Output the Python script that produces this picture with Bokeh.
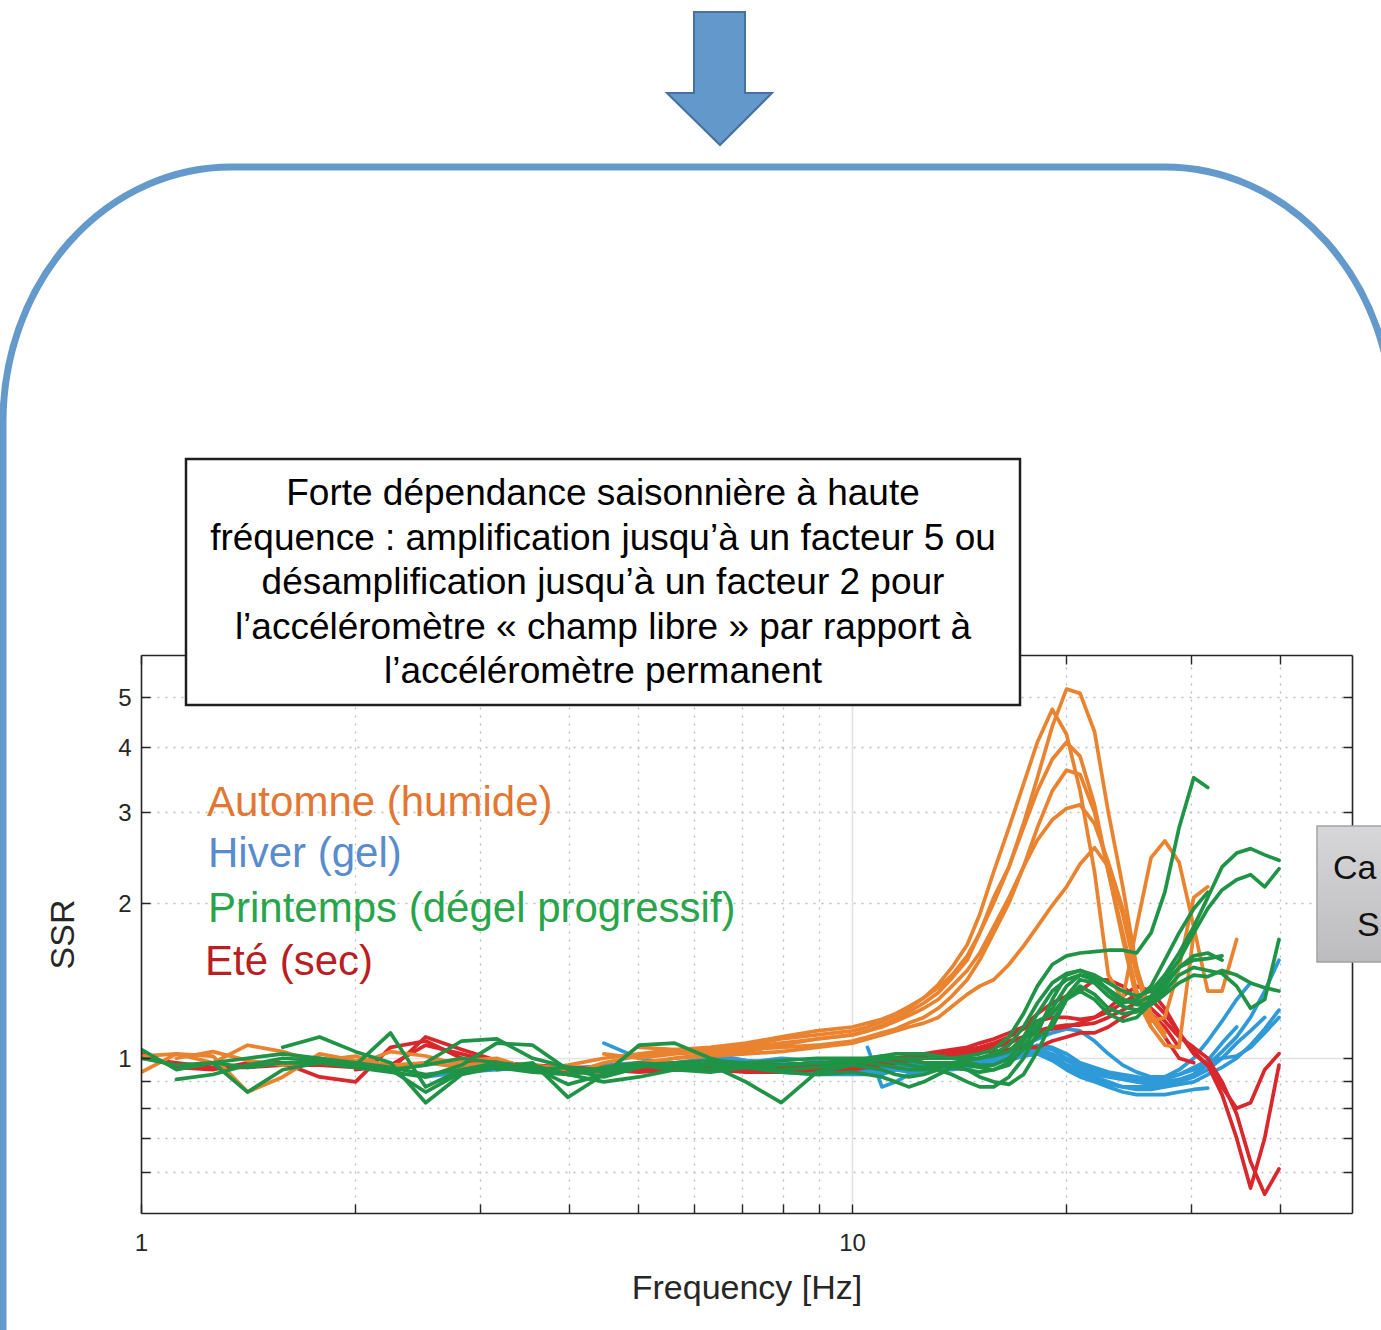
from bokeh.plotting import figure
from bokeh.layouts import column
from bokeh.models import FixedTicker, LogAxis, Grid, Range1d, Div
from bokeh.embed import file_html
from bokeh.resources import INLINE

# ---------------- data ----------------
FREQ = [1.00, 1.12, 1.26, 1.41, 1.58, 1.78, 2.00, 2.24, 2.51, 2.82,
        3.16, 3.55, 3.98, 4.47, 5.01, 5.62, 6.31, 7.08, 7.94, 8.91,
        10.0, 10.5, 11.0, 11.5, 12.0, 12.6, 13.2, 13.8, 14.5, 15.1,
        15.8, 16.6, 17.4, 18.2, 19.1, 20.0, 20.9, 21.9, 22.9, 24.0,
        25.1, 26.3, 27.5, 28.8, 30.2, 31.6, 33.1, 34.7, 36.3, 38.0, 39.8]

AUTOMNE_START = [0, 0, 1, 14, 13, 12]
AUTOMNE = [
    [0.94, 1.02, 1.01, 0.86, 0.92, 1.02, 0.99, 0.97, 0.98, 0.96, 0.97, 0.97, 0.95, 0.96, 0.97, 1.0, 1.02, 1.03, 1.06, 1.09,
     1.11, 1.13, 1.16, 1.19, 1.23, 1.28, 1.34, 1.43, 1.55, 1.75, 2.05, 2.35, 2.85, 3.5, 4.4, 5.2, 5.1, 4.3, 3.0, 2.15,
     1.5, 1.18, 1.2, 1.5, 2.05, 2.15],
    [1.01, 1.02, 0.98, 1.06, 1.03, 0.98, 0.97, 1.03, 1.01, 0.97, 0.98, 0.96, 0.93, 0.98, 1.01, 1.03, 1.04, 1.06, 1.09, 1.11,
     1.13, 1.15, 1.18, 1.21, 1.25, 1.31, 1.39, 1.5, 1.66, 1.9, 2.3, 2.8, 3.4, 4.1, 4.75, 4.25, 3.3, 2.3, 1.45, 1.3,
     1.8, 2.45, 2.64, 2.4, 1.8, 1.35, 1.35, 1.7],
    [1.0, 1.03, 0.99, 0.97, 0.99, 1.01, 0.96, 0.98, 0.99, 1.0, 0.95, 0.97, 1.0, 1.02, 1.04, 1.05, 1.07, 1.1, 1.13,
     1.15, 1.17, 1.19, 1.22, 1.26, 1.31, 1.37, 1.45, 1.58, 1.75, 2.0, 2.35, 2.8, 3.3, 3.8, 4.1, 3.85, 3.1, 2.3, 1.7,
     1.3, 1.15],
    [1.05, 1.04, 1.03, 1.04, 1.05, 1.06,
     1.08, 1.1, 1.12, 1.14, 1.17, 1.2, 1.25, 1.32, 1.42, 1.55, 1.75, 2.0, 2.35, 2.8, 3.3, 3.62, 3.55, 3.0, 2.3, 1.75,
     1.35, 1.15, 1.06, 1.05, 1.75],
    [1.02, 1.0, 1.02, 1.03, 1.05, 1.07, 1.09,
     1.11, 1.13, 1.15, 1.18, 1.21, 1.25, 1.3, 1.38, 1.48, 1.6, 1.8, 2.05, 2.35, 2.65, 2.9, 3.05, 3.1, 2.85, 2.4, 1.95,
     1.5, 1.22, 1.12],
    [0.93, 0.95, 0.98, 1.0, 1.01, 1.02, 1.03, 1.05,
     1.07, 1.09, 1.11, 1.13, 1.15, 1.17, 1.2, 1.26, 1.33, 1.38, 1.42, 1.52, 1.65, 1.8, 1.98, 2.15, 2.38, 2.56, 2.35,
     1.9, 1.45, 1.2, 1.1],
]

HIVER_START = [8, 13, 14, 15, 12, 16, 21, 17]
HIVER = [
    [0.92, 0.94, 0.95, 0.96, 0.95, 0.97, 0.98, 0.96, 0.95, 0.97, 0.98, 0.97,
     0.97, 0.96, 0.97, 0.98, 0.98, 0.97, 0.96, 0.96, 0.97, 0.98, 0.99, 1.01, 1.03, 1.05, 1.04, 1.0, 0.97, 0.95, 0.93,
     0.92, 0.91, 0.9, 0.9, 0.91, 0.93, 0.97, 1.03, 1.1, 1.2, 1.35, 1.55],
    [1.07, 1.0, 0.97, 0.96, 0.98, 1.0, 0.99,
     0.95, 0.94, 0.93, 0.95, 0.96, 0.96, 0.95, 0.95, 0.96, 0.97, 0.98, 1.0, 1.02, 1.03, 1.01, 0.97, 0.94, 0.92, 0.9,
     0.88, 0.87, 0.87, 0.88, 0.89, 0.9, 0.93, 0.96, 1.0, 1.06, 1.14, 1.24],
    [0.97, 0.98, 1.0, 0.99, 0.97, 0.96,
     0.98, 0.99, 0.97, 0.96, 0.97, 0.98, 0.98, 0.97, 0.98, 1.0, 1.01, 1.02, 1.04, 1.06, 1.05, 1.02, 0.98, 0.96, 0.94,
     0.93, 0.92, 0.91, 0.92, 0.95, 1.0, 1.08, 1.18, 1.3, 1.4],
    [0.95, 0.97, 0.96, 0.95, 0.94,
     0.94, 0.95, 0.96, 0.97, 0.97, 0.96, 0.97, 0.98, 0.98, 0.99, 1.0, 1.02, 1.03, 1.04, 1.02, 0.99, 0.96, 0.94, 0.93,
     0.92, 0.9, 0.89, 0.89, 0.9, 0.93, 0.99, 1.07, 1.15],
    [0.95, 0.96, 0.97, 0.95, 0.95, 0.96, 0.97, 0.96,
     0.96, 0.95, 0.95, 0.96, 0.96, 0.95, 0.95, 0.96, 0.97, 0.98, 0.99, 1.0, 1.01, 1.02, 0.99, 0.95, 0.92, 0.9, 0.88,
     0.86, 0.85, 0.85, 0.85, 0.86, 0.87, 0.875],
    [1.02, 0.99, 0.98, 0.97,
     0.97, 0.97, 0.98, 0.99, 0.98, 0.97, 0.97, 0.98, 0.99, 1.0, 1.01, 1.01, 1.02, 1.03, 1.0, 0.97, 0.95, 0.93, 0.92,
     0.91, 0.9, 0.9, 0.91, 0.93, 0.96, 0.99, 1.0, 1.01, 1.05, 1.12, 1.2],
    [1.05, 0.88, 0.9, 0.93, 0.95, 0.96, 0.97, 0.98, 1.0, 1.02, 1.04, 1.06, 1.09, 1.12, 1.14, 1.13, 1.08, 1.02, 0.97,
     0.94, 0.92, 0.92, 0.93, 0.95, 0.98, 1.0],
    [0.95, 0.94, 0.93,
     0.93, 0.93, 0.94, 0.95, 0.94, 0.94, 0.95, 0.96, 0.96, 0.97, 0.98, 0.99, 1.01, 1.02, 1.0, 0.96, 0.93, 0.91, 0.89,
     0.88, 0.88, 0.88, 0.89, 0.9, 0.92, 0.95, 1.0, 1.07, 1.13, 1.2],
]

ETE_START = [0, 0, 6, 8, 12]
ETE = [
    [1.02, 0.96, 0.95, 0.98, 0.98, 0.92, 0.9, 1.05, 1.08, 1.0, 0.97, 0.95, 0.94, 0.95, 0.96, 0.95, 0.96, 0.95, 0.95, 0.96,
     0.97, 0.97, 0.98, 0.99, 1.0, 1.01, 1.02, 1.03, 1.04, 1.05, 1.07, 1.1, 1.14, 1.18, 1.2, 1.2, 1.19, 1.2, 1.23, 1.28,
     1.33, 1.3, 1.22, 1.12, 1.03, 0.97, 0.88, 0.8, 0.82, 0.95, 1.02],
    [1.0, 0.98, 0.96, 0.96, 0.97, 0.97, 0.96, 0.95, 1.1, 1.04, 0.99, 0.96, 0.95, 0.94, 0.95, 0.96, 0.95, 0.94, 0.94, 0.95,
     0.95, 0.96, 0.97, 0.98, 0.99, 1.0, 1.0, 1.01, 1.02, 1.04, 1.06, 1.08, 1.1, 1.12, 1.14, 1.15, 1.17, 1.2, 1.25, 1.32,
     1.38, 1.35, 1.25, 1.12, 1.02, 0.97, 0.85, 0.7, 0.56, 0.7, 0.97],
    [0.95, 0.97, 1.06, 1.02, 0.98, 0.97, 0.96, 0.96, 0.95, 0.95, 0.96, 0.96, 0.97, 0.97,
     0.98, 0.98, 0.99, 1.0, 1.0, 1.01, 1.02, 1.02, 1.03, 1.04, 1.05, 1.07, 1.1, 1.13, 1.15, 1.16, 1.16, 1.17, 1.2, 1.24,
     1.28, 1.25, 1.18, 1.1, 1.05, 1.0, 0.9, 0.78, 0.63, 0.545, 0.61],
    [0.98, 0.99, 0.97, 0.96, 0.95, 0.96, 0.97, 0.96, 0.96, 0.97, 0.97, 0.98,
     0.98, 0.99, 1.0, 1.0, 1.01, 1.02, 1.03, 1.04, 1.05, 1.07, 1.09, 1.12, 1.15, 1.22, 1.28, 1.32, 1.35, 1.42, 1.42,
     1.38, 1.3, 1.2, 1.1, 1.0, 0.98],
    [0.96, 0.95, 0.94, 0.95, 0.96, 0.96, 0.96, 0.96,
     0.96, 0.97, 0.98, 0.98, 0.99, 1.0, 1.0, 1.01, 1.02, 1.03, 1.03, 1.04, 1.05, 1.05, 1.08, 1.1, 1.12, 1.12, 1.15, 1.2,
     1.24, 1.22, 1.15, 1.05],
]

PRINTEMPS_START = [0, 1, 4, 0, 2, 8, 5, 10]
PRINTEMPS = [
    [1.04, 0.95, 0.98, 0.96, 0.98, 0.98, 0.97, 1.12, 0.88, 0.95, 0.97, 0.95, 0.96, 0.95, 0.97, 0.96, 0.97, 0.96, 0.97, 0.98,
     0.99, 0.99, 1.0, 1.0, 1.0, 1.0, 1.0, 1.0, 1.01, 1.02, 1.04, 1.1, 1.22, 1.38, 1.52, 1.58, 1.6, 1.61, 1.62, 1.62,
     1.6, 1.75, 2.1, 2.8, 3.5, 3.35],
    [0.91, 0.93, 0.97, 1.0, 0.99, 0.97, 0.95, 0.97, 1.0, 0.98, 0.96, 0.93, 0.95, 0.97, 0.98, 0.99, 0.98, 0.99, 1.0,
     1.0, 1.0, 1.01, 1.02, 1.02, 1.02, 1.01, 1.0, 1.0, 1.0, 1.02, 1.06, 1.15, 1.28, 1.4, 1.46, 1.48, 1.45, 1.4, 1.35,
     1.32, 1.35, 1.45, 1.6, 1.8, 2.05, 2.35, 2.5, 2.55, 2.48, 2.42],
    [1.05, 1.1, 1.03, 0.98, 0.82, 0.93, 0.96, 0.94, 0.93, 0.96, 0.98, 0.97, 0.95, 0.96, 0.97, 0.98,
     0.98, 0.99, 1.0, 1.0, 0.99, 0.98, 0.98, 0.98, 0.99, 1.0, 1.01, 1.03, 1.1, 1.22, 1.35, 1.42, 1.45, 1.42, 1.36, 1.3,
     1.28, 1.32, 1.42, 1.55, 1.75, 1.95, 2.12, 2.22, 2.27, 2.15, 2.33],
    [1.0, 0.97, 0.98, 0.86, 0.95, 0.98, 0.96, 0.94, 0.92, 0.97, 1.07, 1.06, 0.95, 0.92, 0.96, 0.98, 0.97, 0.9, 0.82, 0.94,
     0.97, 0.98, 0.97, 0.96, 0.95, 0.95, 0.96, 0.97, 0.97, 0.96, 0.95, 0.97, 1.05, 1.15, 1.25, 1.38, 1.45, 1.43, 1.36,
     1.3, 1.27, 1.28, 1.35, 1.45, 1.5, 1.48, 1.46, 1.38, 1.25, 1.3, 1.7],
    [0.98, 1.0, 1.02, 1.0, 0.97, 0.95, 0.86, 0.94, 0.96, 0.98, 0.84, 0.93, 0.97, 0.96, 0.95, 0.97, 0.97, 0.98,
     0.98, 0.99, 0.99, 0.98, 0.97, 0.96, 0.97, 0.98, 0.98, 0.97, 0.97, 1.0, 1.08, 1.18, 1.22, 1.32, 1.42, 1.4, 1.32,
     1.26, 1.24, 1.27, 1.33, 1.4, 1.45, 1.44, 1.48, 1.45, 1.4, 1.37, 1.35],
    [0.98, 1.08, 1.09, 1.0, 0.96, 0.94, 0.97, 0.95, 0.94, 0.96, 0.97, 0.98,
     0.99, 1.0, 1.01, 1.0, 0.99, 0.98, 0.97, 0.96, 0.95, 0.94, 0.95, 0.98, 1.04, 1.1, 1.15, 1.3, 1.38, 1.33, 1.25,
     1.22, 1.23, 1.3, 1.4, 1.5, 1.55, 1.56, 1.58],
    [1.0, 0.98, 0.96, 0.93, 0.95, 0.98, 0.96, 0.89, 0.93, 1.06, 1.07, 1.0, 0.96, 0.95, 0.96,
     0.97, 0.96, 0.95, 0.93, 0.92, 0.93, 0.95, 0.93, 0.9, 0.88, 0.88, 0.92, 1.0, 1.12, 1.3, 1.45, 1.48, 1.44, 1.35,
     1.28, 1.3, 1.38, 1.55, 1.75, 1.95, 2.1],
    [0.95, 0.97, 0.93, 0.9, 0.92, 0.95, 0.98, 0.96, 0.94, 0.93,
     0.94, 0.93, 0.92, 0.9, 0.88, 0.9, 0.93, 0.96, 0.95, 0.92, 0.9, 0.89, 0.93, 1.03, 1.18, 1.3, 1.35, 1.3, 1.22,
     1.18, 1.2, 1.28, 1.38, 1.5, 1.58, 1.6, 1.55],
]

X_TICKS = [1, 2, 3, 4, 5, 6, 7, 8, 9, 10, 20, 30, 40]
X_LABELED = [1, 10]
Y_TICKS = [0.6, 0.7, 0.8, 0.9, 1, 2, 3, 4, 5]
Y_LABELED = [1, 2, 3, 4, 5]

LEGEND = ["Automne (humide)", "Hiver (gel)", "Printemps (dégel progressif)", "Eté (sec)"]
BOX_LINES = ["Forte dépendance saisonnière à haute",
             "fréquence : amplification jusqu’à un facteur 5 ou",
             "désamplification jusqu’à un facteur 2 pour",
             "l’accéléromètre « champ libre » par rapport à",
             "l’accéléromètre permanent"]
SIDE_LINES = ["Ca", "S"]

# ---------------- styles ----------------
C_ORANGE, C_BLUE, C_GREEN, C_RED = "#E9832F", "#2F9AD8", "#1F9346", "#D9282C"
T_ORANGE, T_BLUE, T_GREEN, T_RED = "#E27632", "#588CCD", "#28A54B", "#B91E23"
AX = "#262626"
FONT = "Liberation Sans"
W, H = 1381, 1330

# ================= chart =================
chart = figure(width=W, height=H, x_axis_type="log", y_axis_type="log",
               x_range=Range1d(1, 50.5), y_range=Range1d(0.5, 6.04),
               output_backend="svg", toolbar_location=None,
               min_border_left=141, min_border_right=W - 1352,
               min_border_top=655, min_border_bottom=H - 1213)
chart.outline_line_color = None
chart.background_fill_color = "white"
chart.border_fill_color = "white"
chart.xgrid.visible = False
chart.ygrid.visible = False

bottom_ax = chart.xaxis[0]
left_ax = chart.yaxis[0]

chart.add_layout(Grid(dimension=0, ticker=FixedTicker(ticks=[t for t in X_TICKS if t not in (1, 10)]),
                      grid_line_color="#BDBDBD", grid_line_dash="2 6", grid_line_width=1.3))
chart.add_layout(Grid(dimension=1, ticker=FixedTicker(ticks=[t for t in Y_TICKS if t != 1]),
                      grid_line_color="#BDBDBD", grid_line_dash="2 6", grid_line_width=1.3))
chart.add_layout(Grid(dimension=0, ticker=FixedTicker(ticks=[10]),
                      grid_line_color="#E2E2E2", grid_line_width=1.6))
chart.add_layout(Grid(dimension=1, ticker=FixedTicker(ticks=[1]),
                      grid_line_color="#E2E2E2", grid_line_width=1.6))


def style_axis(ax, ticks, labeled, show):
    ax.ticker = FixedTicker(ticks=ticks)
    ax.major_label_overrides = {t: (str(t) if (show and t in labeled) else "") for t in ticks}
    ax.axis_line_color = AX
    ax.axis_line_width = 1.6
    ax.major_tick_line_color = AX
    ax.major_tick_line_width = 1.4
    ax.major_tick_in = 9
    ax.major_tick_out = 0
    ax.minor_tick_line_color = None
    ax.major_label_text_font = FONT
    ax.major_label_text_font_size = "24px" if show else "0px"
    ax.major_label_text_color = AX


style_axis(bottom_ax, X_TICKS, X_LABELED, True)
style_axis(left_ax, Y_TICKS, Y_LABELED, True)
bottom_ax.major_label_standoff = 20
left_ax.major_label_standoff = 10
top_ax = LogAxis()
right_ax = LogAxis()
style_axis(top_ax, X_TICKS, X_LABELED, False)
style_axis(right_ax, Y_TICKS, Y_LABELED, False)
top_ax.major_label_standoff = 0
right_ax.major_label_standoff = 0
chart.add_layout(top_ax, "above")
chart.add_layout(right_ax, "right")

bottom_ax.axis_label = "Frequency [Hz]"
left_ax.axis_label = "SSR"
for ax in (bottom_ax, left_ax):
    ax.axis_label_text_font = FONT
    ax.axis_label_text_font_size = "34px"
    ax.axis_label_text_font_style = "normal"
    ax.axis_label_text_color = AX
bottom_ax.axis_label_standoff = 14
left_ax.axis_label_standoff = 34

for starts, curves, color in [(HIVER_START, HIVER, C_BLUE), (ETE_START, ETE, C_RED),
                              (AUTOMNE_START, AUTOMNE, C_ORANGE), (PRINTEMPS_START, PRINTEMPS, C_GREEN)]:
    for s, vals in zip(starts, curves):
        chart.line(FREQ[s:s + len(vals)], vals, line_color=color, line_width=3.7,
                   line_join="round", line_cap="round")

# ================= slide decorations: transparent SVG layer pulled over the chart =================
def txt(x, y, s, size, color, family=FONT, anchor="start"):
    return (f'<text x="{x}" y="{y}" font-family="{family}" font-size="{size}" fill="{color}" '
            f'text-anchor="{anchor}">{s}</text>')


parts = [
    f'<svg xmlns="http://www.w3.org/2000/svg" width="{W}" height="{H}" viewBox="0 0 {W} {H}" '
    f'style="display:block;position:absolute;left:0;top:0">',
    '<defs><linearGradient id="gbox" x1="0" y1="0" x2="0" y2="1">'
    '<stop offset="0" stop-color="#D7D7D9"/><stop offset="1" stop-color="#BCBCBE"/></linearGradient></defs>',
    # rounded frame of the slide (elliptical corners)
    '<path d="M3,1400 L3,422 A228,255 0 0 1 231,167 L1165,167 A228,255 0 0 1 1393,422 L1393,1400" '
    'fill="none" stroke="#6499CB" stroke-width="7"/>',
    # arrow
    '<polygon points="694,12 745,12 745,93 772,93 720,145 667,93 694,93" fill="#6298CA" '
    'stroke="#44719F" stroke-width="2"/>',
    # grey box at the right edge
    '<rect x="1317" y="826" width="110" height="136" fill="url(#gbox)" stroke="#A2A2A4" stroke-width="1.5"/>',
    txt(1333, 879, SIDE_LINES[0], 34, "#111111", "Open Sans"),
    txt(1357, 936, SIDE_LINES[1], 34, "#111111", "Open Sans"),
    # annotation text box
    '<rect x="186" y="459" width="834" height="246" fill="#FFFFFF" stroke="#1E1E1E" stroke-width="2.5"/>',
]
for i, line in enumerate(BOX_LINES):
    parts.append(txt(603, round(505 + 44.6 * i, 1), line, 37, "#000000", anchor="middle"))
for s, col, yb, xl in zip(LEGEND, [T_ORANGE, T_BLUE, T_GREEN, T_RED],
                          [816, 867, 922, 975], [207, 208, 208, 205]):
    parts.append(txt(xl, yb, s, 42, col))
parts.append('</svg>')

overlay = Div(text="".join(parts), width=W, height=H, margin=(-H, 0, 0, 0),
              styles={"position": "relative", "overflow": "visible"})

p = column(chart, overlay)
open("out.html", "w").write(file_html(p, INLINE))
